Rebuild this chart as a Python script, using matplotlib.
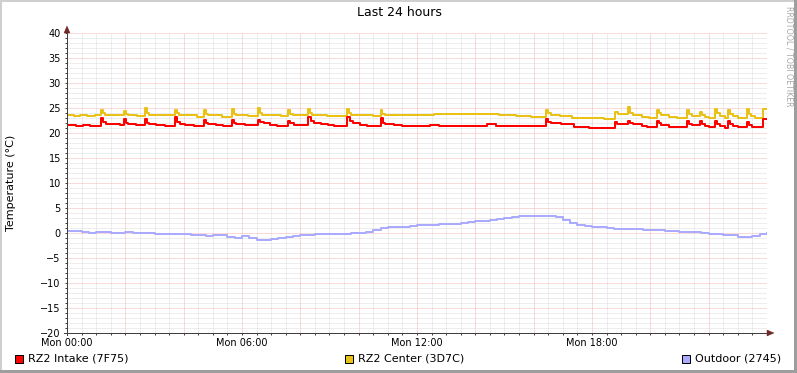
import matplotlib
matplotlib.use("Agg")
import matplotlib.pyplot as plt
import numpy as np
from matplotlib.patches import Rectangle, Polygon

# ---------------- data ----------------
title = "Last 24 hours"
ylabel = "Temperature (°C)"
xtick_hours = [0, 6, 12, 18]
xtick_labels = ["Mon 00:00", "Mon 06:00", "Mon 12:00", "Mon 18:00"]
ytick_values = [-20, -15, -10, -5, 0, 5, 10, 15, 20, 25, 30, 35, 40]
series_names = ["RZ2 Intake (7F75)", "RZ2 Center (3D7C)", "Outdoor (2745)"]
series_colors = ["#FF0000", "#EAC117", "#AAAAFF"]

intake_t = [0.00, 0.30, 0.55, 0.80, 1.17, 1.23, 1.32, 1.60, 1.80, 1.96, 2.02, 2.10, 2.35,
            2.67, 2.73, 2.82, 3.05, 3.35, 3.70, 3.77, 3.86, 4.05, 4.35, 4.70, 4.76, 4.85,
            5.10, 5.35, 5.65, 5.71, 5.80, 6.10, 6.56, 6.63, 6.75, 6.95, 7.20, 7.59, 7.66,
            7.78, 8.00, 8.25, 8.38, 8.47, 8.70, 8.95, 9.15, 9.60, 9.70, 9.80, 10.05, 10.30,
            10.75, 10.82, 10.92, 11.20, 11.50, 12.45, 12.75, 14.40, 14.70, 16.42, 16.50,
            16.58, 16.95, 17.40, 17.90, 18.79, 18.86, 19.24, 19.31, 19.40, 19.70, 19.90,
            20.22, 20.29, 20.38, 20.65, 21.25, 21.32, 21.42, 21.70, 21.77, 21.86, 22.00,
            22.22, 22.29, 22.38, 22.55, 22.67, 22.74, 22.83, 23.00, 23.30, 23.37, 23.50,
            23.87, 24.00]
intake_v = [21.6, 21.5, 21.6, 21.5, 23.1, 22.3, 21.9, 21.8, 21.6, 22.9, 22.1, 21.8, 21.6,
            22.8, 22.1, 21.8, 21.6, 21.5, 23.3, 22.3, 21.9, 21.7, 21.5, 22.7, 22.0, 21.8,
            21.6, 21.5, 22.6, 22.0, 21.8, 21.6, 22.7, 22.3, 22.0, 21.7, 21.5, 22.5, 22.0,
            21.7, 21.6, 23.3, 22.5, 22.1, 21.8, 21.6, 21.4, 23.3, 22.4, 22.0, 21.7, 21.5,
            23.0, 22.1, 21.8, 21.6, 21.5, 21.7, 21.5, 21.8, 21.5, 22.8, 22.3,
            22.0, 21.8, 21.3, 21.1, 22.3, 21.8, 22.5, 22.0, 21.8, 21.5, 21.2,
            22.5, 22.0, 21.7, 21.2, 22.5, 21.9, 21.6, 22.5, 21.9, 21.5, 21.2,
            22.4, 21.8, 21.4, 21.1, 22.4, 21.9, 21.5, 21.2, 22.3, 21.6, 21.2,
            22.9, 22.9]

center_t = [0.00, 0.25, 0.45, 0.70, 0.95, 1.17, 1.23, 1.30, 1.60, 1.96, 2.02, 2.10, 2.40,
            2.67, 2.73, 2.80, 3.20, 3.70, 3.76, 3.85, 4.20, 4.45, 4.70, 4.76, 4.85, 5.30,
            5.65, 5.71, 5.80, 6.20, 6.56, 6.62, 6.70, 7.10, 7.35, 7.59, 7.65, 7.75, 8.25,
            8.32, 8.40, 8.90, 9.30, 9.60, 9.67, 9.75, 10.20, 10.50, 10.75, 10.81, 10.90,
            11.60, 12.60, 13.50, 14.30, 14.80, 15.40, 15.90, 16.42, 16.50, 16.58, 16.90,
            17.30, 17.80, 18.40, 18.79, 18.90, 19.24, 19.31, 19.40, 19.70, 19.95, 20.22,
            20.29, 20.38, 20.65, 20.90, 21.25, 21.32, 21.42, 21.70, 21.77, 21.86, 22.00,
            22.22, 22.29, 22.38, 22.55, 22.67, 22.74, 22.83, 23.00, 23.30, 23.37, 23.46,
            23.60, 23.87, 24.00]
center_v = [23.6, 23.5, 23.6, 23.5, 23.6, 24.6, 24.0, 23.7, 23.6, 24.4, 23.9, 23.6, 23.4,
            25.0, 24.0, 23.7, 23.6, 24.6, 24.0, 23.7, 23.6, 23.3, 24.6, 23.9, 23.6, 23.2,
            24.8, 23.9, 23.6, 23.5, 25.0, 24.0, 23.7, 23.6, 23.4, 24.6, 23.9, 23.6, 24.8,
            24.0, 23.7, 23.5, 23.4, 24.8, 24.0, 23.7, 23.6, 23.4, 24.6, 23.9, 23.6,
            23.7, 23.8, 23.9, 23.8, 23.6, 23.5, 23.3, 24.6, 24.0, 23.6, 23.4,
            23.1, 23.0, 22.9, 24.3, 23.9, 25.2, 24.1, 23.7, 23.3, 23.0, 24.7,
            24.0, 23.6, 23.2, 23.0, 24.7, 23.9, 23.5, 24.3, 23.7, 23.3, 23.0,
            24.9, 24.0, 23.5, 23.1, 24.7, 23.9, 23.4, 23.1, 24.8, 23.9, 23.4,
            23.1, 24.8, 24.8]

# outdoor: one value per 15 minutes (4 per hour), plus the closing value at 24:00
outdoor_v = [0.4, 0.4, 0.2, 0.0,
             0.2, 0.3, 0.1, 0.1,
             0.2, 0.1, 0.1, 0.0,
             -0.1, -0.2, -0.2, -0.2,
             -0.2, -0.3, -0.3, -0.5,
             -0.3, -0.4, -0.8, -0.9,
             -0.6, -1.0, -1.3, -1.3,
             -1.1, -0.9, -0.7, -0.6,
             -0.4, -0.3, -0.2, -0.2,
             -0.2, -0.1, -0.1, 0.0,
             0.0, 0.3, 0.7, 1.0,
             1.2, 1.3, 1.3, 1.5,
             1.6, 1.7, 1.7, 1.8,
             1.8, 1.8, 2.0, 2.2,
             2.4, 2.5, 2.6, 2.9,
             3.1, 3.3, 3.5, 3.4,
             3.5, 3.4, 3.5, 3.3,
             2.6, 2.0, 1.7, 1.5,
             1.3, 1.2, 1.0, 0.9,
             0.9, 0.9, 0.9, 0.7,
             0.7, 0.6, 0.5, 0.5,
             0.3, 0.2, 0.3, 0.0,
             -0.1, -0.2, -0.3, -0.3,
             -0.7, -0.8, -0.5, -0.2,
             0.0]
outdoor_t = np.linspace(0, 24, len(outdoor_v))

# ---------------- layout ----------------
W, H = 797, 373
DPI = 100
PX = 72.0 / DPI  # points per pixel
fig = plt.figure(figsize=(W / DPI, H / DPI), dpi=DPI)
fig.patch.set_facecolor("white")

L, R, B, T = 67, 767, 333, 33
ax = fig.add_axes([L / W, 1 - B / H, (R - L) / W, (B - T) / H])
ax.set_facecolor("white")
ax.set_xlim(0, 24)
ax.set_ylim(-20, 40)
for s in ax.spines.values():
    s.set_visible(False)

GRID = "#DDDDDD"
MGRID = "#F2B6B6"
AXIS = "#404040"
ARROW = "#7F1F1F"
dots = (0, (1, 1))

# minor grid
for y in range(-20, 41):
    if y % 5 != 0:
        ax.axhline(y, color=GRID, lw=PX, ls=dots, zorder=1)
for h in np.arange(0, 24.01, 0.5):
    if abs(h % 2) > 1e-9:
        ax.axvline(h, color=GRID, lw=PX, ls=dots, zorder=1)
# major grid
for y in ytick_values:
    ax.axhline(y, color=MGRID, lw=PX, ls=dots, zorder=2)
for h in range(0, 25, 2):
    ax.axvline(h, color=MGRID, lw=PX, ls=dots, zorder=2)

lw = 2 * PX
ax.step(outdoor_t, outdoor_v, where="post", color=series_colors[2], lw=lw, zorder=4)
ax.step(center_t, center_v, where="post", color=series_colors[1], lw=lw, zorder=5)
ax.step(intake_t, intake_v, where="post", color=series_colors[0], lw=lw, zorder=6)

# ticks
ax.set_yticks(ytick_values)
ax.set_yticks(range(-20, 41), minor=True)
ax.set_xticks(xtick_hours)
ax.set_xticks(np.arange(0, 24.01, 0.5), minor=True)
ax.set_xticklabels(xtick_labels)
ax.tick_params(axis="both", which="both", direction="out", length=2 * PX,
               width=PX, color=AXIS, labelsize=7, labelcolor="black")
ax.tick_params(axis="y", which="major", pad=3.0)
ax.tick_params(axis="x", which="major", pad=2.0)

# axes lines and arrows in pixel coordinates
def P(x, y):
    return (x / W, 1 - y / H)

fig.add_artist(plt.Line2D([P(67, 0)[0], P(67, 0)[0]], [P(0, 335)[1], P(0, 29)[1]],
                          color=AXIS, lw=PX, transform=fig.transFigure))
fig.add_artist(plt.Line2D([P(64, 0)[0], P(771, 0)[0]], [P(0, 333)[1], P(0, 333)[1]],
                          color=AXIS, lw=PX, transform=fig.transFigure))
fig.add_artist(Polygon([P(64, 33), P(70, 33), P(67, 26)], closed=True, fc=ARROW, ec=ARROW,
                       lw=0.3, transform=fig.transFigure))
fig.add_artist(Polygon([P(767, 330), P(767, 336), P(774, 333)], closed=True, fc=ARROW, ec=ARROW,
                       lw=0.3, transform=fig.transFigure))

# texts
fig.text(399 / W, 1 - 13 / H, title, ha="center", va="center", fontsize=9, color="black")
fig.text(11 / W, 1 - 183 / H, ylabel, ha="center", va="center", rotation=90, fontsize=8)
fig.text(789 / W, 1 - 6 / H, "RRDTOOL / TOBI OETIKER", ha="center", va="top", rotation=270,
         fontsize=5.7, color="#A8A8A8")

# legend
legend_x = [15, 345, 682]
for name, col, lx in zip(series_names, series_colors, legend_x):
    fig.add_artist(Rectangle(P(lx, 363), 8 / W, 8 / H, fc=col, ec="black", lw=PX,
                             transform=fig.transFigure))
    fig.text((lx + 13) / W, 1 - 358.5 / H, name, ha="left", va="center", fontsize=8)

# frame shading
fig.add_artist(Rectangle((0, 1 - 2 / H), 1, 2 / H, fc="#CFCFCF", ec="none", transform=fig.transFigure))
fig.add_artist(Rectangle((0, 0), 2 / W, 1, fc="#CFCFCF", ec="none", transform=fig.transFigure))
fig.add_artist(Rectangle((0, 0), 1, 3 / H, fc="#9E9E9E", ec="none", transform=fig.transFigure))
fig.add_artist(Rectangle((1 - 3 / W, 0), 3 / W, 1, fc="#9E9E9E", ec="none", transform=fig.transFigure))

fig.savefig("out.png", dpi=DPI, facecolor=fig.get_facecolor())
